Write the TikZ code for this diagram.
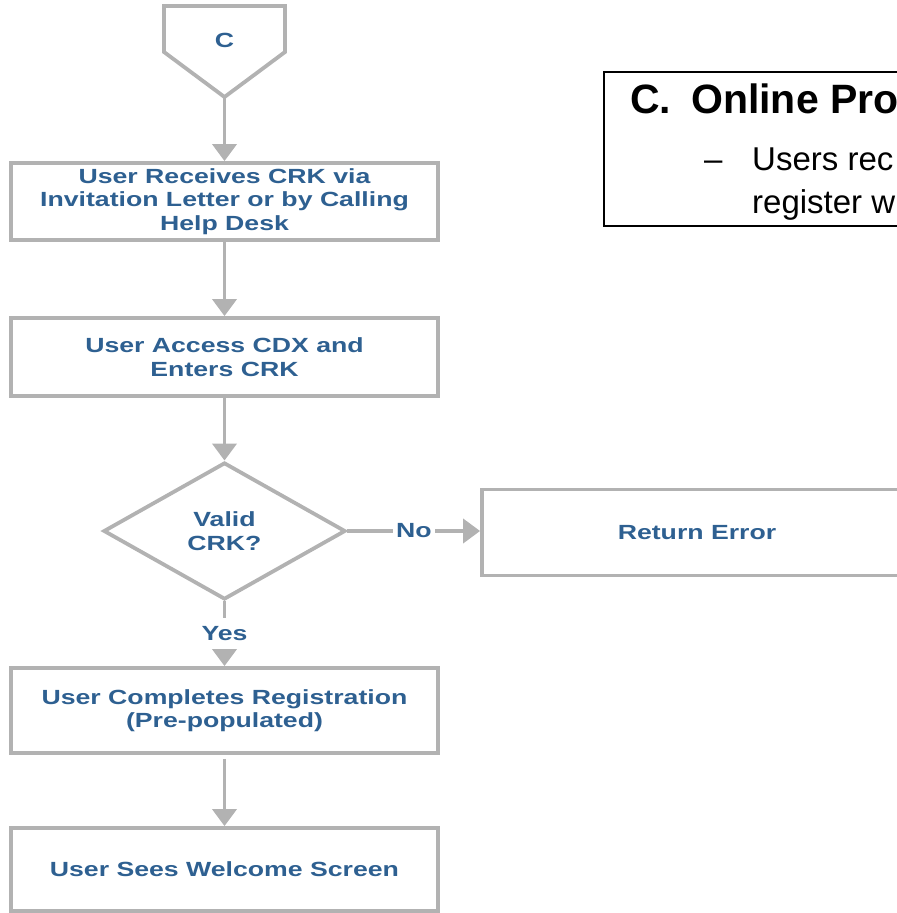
\documentclass[tikz,border=0pt]{standalone}
\usepackage{fontspec}
\setmainfont{Liberation Sans}
\newfontfamily\flowfont[FakeStretch=1.3]{Liberation Sans}
\usetikzlibrary{arrows.meta,shapes.geometric}
\definecolor{flowblue}{RGB}{46,96,145}
\definecolor{flowgray}{RGB}{178,178,178}
\newcommand\flowtext{\flowfont\bfseries\fontsize{20.5bp}{23.5bp}\selectfont}
\newcommand\titletext{\bfseries\fontsize{41bp}{48bp}\selectfont}
\newcommand\bodytext{\fontsize{33bp}{43bp}\selectfont}
\begin{document}
\begin{tikzpicture}[x=1bp,y=-1bp,
  conn/.style={draw=flowgray, line width=3.8bp},
  arr/.style={conn, -{Triangle[width=24bp,length=17bp]}},
  flowbox/.style={rectangle, draw=flowgray, line width=3.8bp, minimum width=427bp,
    text=flowblue, font=\flowtext, align=center, inner sep=0pt},
  lbl/.style={text=flowblue, font=\flowtext, outer sep=0pt},
  slide/.style={anchor=base west, inner sep=0pt, text=black}]
\useasboundingbox (0,0) rectangle (897,913);
\clip (0,0) rectangle (897,913);
% off-page connector
\draw[conn, line join=miter] (164,6) -- (285,6) -- (285,52) -- (224.5,97) -- (164,52) -- cycle;
\coordinate (ctip) at (224.5,97);
\node[lbl, inner sep=0pt] (clabel) at (224.5,40) {C};
% boxes
\node[flowbox, minimum height=77bp] (b1) at (224.5,201.5) {\raisebox{-1.5bp}{\parbox{420bp}{\centering User Receives CRK via\\Invitation Letter or by Calling\\Help Desk}}};
\node[flowbox, minimum height=78bp] (b2) at (224.5,357) {User Access CDX and\\Enters CRK};
\node[diamond, draw=flowgray, line width=3.8bp, minimum width=242bp, minimum height=137bp,
  inner sep=0pt, text=flowblue, font=\flowtext, align=center] (dec) at (224.5,531) {Valid\\CRK?};
\node[flowbox, minimum width=430bp, minimum height=86bp] (ret) at (697,532.5) {Return Error};
\node[flowbox, minimum height=85bp] (b3) at (224.5,710.5) {User Completes Registration\\(Pre-populated)};
\node[flowbox, minimum height=83bp] (b4) at (224.5,869.5) {User Sees Welcome Screen};
% labels
\node[lbl, inner xsep=3.5bp, inner ysep=2bp] (no) at (414,531) {No};
\node[lbl, inner xsep=2bp, inner ysep=8.5bp] (yes) at (224.5,633.5) {Yes};
% connectors
\draw[arr] (ctip) -- (b1);
\draw[arr] (b1) -- (b2);
\draw[arr] (b2) -- (dec);
\draw[conn] (dec.east) -- (no.west);
\draw[arr] (no.east) -- (no.east -| ret.west);
\draw[conn] (dec.south) -- (yes.north);
\draw[arr] (yes.south) -- (b3.north);
\draw[arr, shorten <=4bp] (b3.south) -- (b4.north);
% slide text box
\node[rectangle, draw=black, line width=1.5bp, minimum width=340bp, minimum height=154bp,
  anchor=north west, inner sep=0pt] (online) at (603,71) {};
\node[slide, font=\titletext] (tc) at (630,113) {C.};
\node[slide, font=\titletext] (tonline) at (691,113) {Online Pro};
\node[slide, font=\bodytext] (tdash) at (704,170) {–};
\node[slide, font=\bodytext] (tusers) at (752,170) {Users rec};
\node[slide, font=\bodytext] (treg) at (752,213) {register w};
\end{tikzpicture}
\end{document}
